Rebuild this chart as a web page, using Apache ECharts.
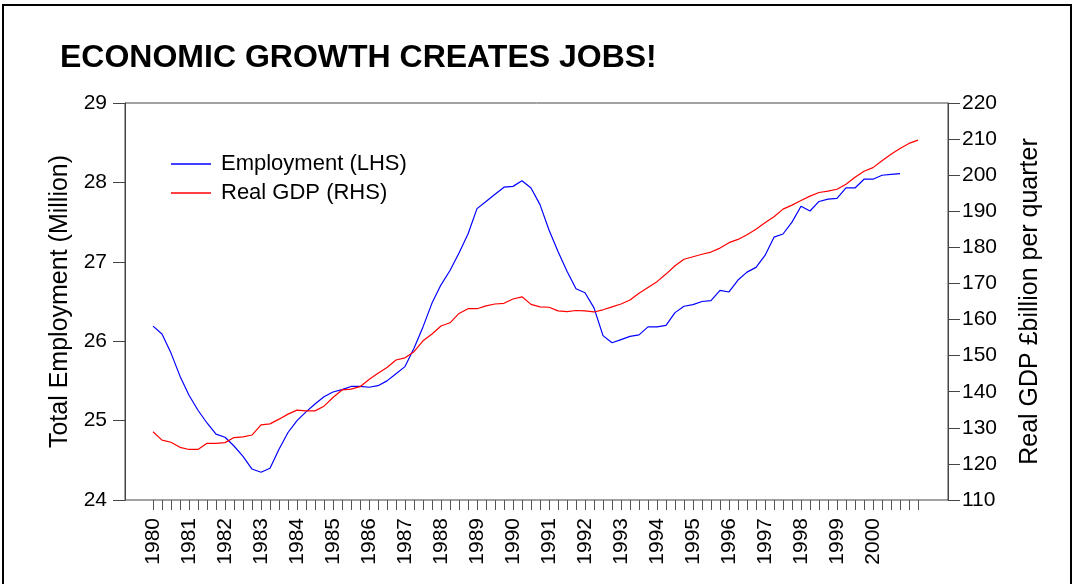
<!DOCTYPE html>
<html>
<head>
<meta charset="utf-8">
<script src="https://cdn.jsdelivr.net/npm/echarts@6/dist/echarts.min.js"></script>
<style>
html, body { margin: 0; padding: 0; background: #fff; overflow: hidden; }
#chart { position: absolute; left: 0; top: 0; width: 1074px; height: 584px; }
.outer { position: absolute; left: 2px; top: 4px; width: 1066px; height: 700px; border: 2px solid #000; pointer-events: none; }
</style>
</head>
<body>
<div id="chart"></div>
<div class="outer"></div>
<script>
// year labels on the bottom axis (first quarter of each year)
const years = ['1980', '1981', '1982', '1983', '1984', '1985', '1986', '1987', '1988', '1989',
  '1990', '1991', '1992', '1993', '1994', '1995', '1996', '1997', '1998', '1999', '2000']
const firstYear = 1980
const lastYear = 2001
const lastQuarter = 2

// Total employment (million), 1980Q1 - 2000Q4
const employment = [
  26.19, 26.09, 25.85, 25.56, 25.32, 25.13, 24.97, 24.83, 24.79, 24.68,
  24.55, 24.39, 24.35, 24.40, 24.64, 24.85, 25.00, 25.11, 25.21, 25.30,
  25.36, 25.39, 25.43, 25.43, 25.42, 25.44, 25.50, 25.59, 25.68, 25.91,
  26.18, 26.48, 26.71, 26.89, 27.11, 27.35, 27.67, 27.76, 27.85, 27.94,
  27.95, 28.02, 27.93, 27.72, 27.40, 27.13, 26.88, 26.66, 26.61, 26.42,
  26.07, 25.98, 26.02, 26.06, 26.08, 26.18, 26.18, 26.20, 26.36, 26.44,
  26.46, 26.50, 26.51, 26.64, 26.62, 26.77, 26.87, 26.93, 27.08, 27.31,
  27.35, 27.50, 27.70, 27.64, 27.76, 27.79, 27.80, 27.93, 27.93, 28.04,
  28.04, 28.09, 28.10, 28.11
]

// Real GDP, £billion per quarter, 1980Q1 - 2001Q2
const gdp = [
  128.9, 126.6, 126.0, 124.6, 124.0, 124.0, 125.7, 125.7, 125.9, 127.3,
  127.5, 128.0, 130.8, 131.1, 132.4, 133.8, 134.9, 134.7, 134.7, 136.0,
  138.4, 140.5, 140.7, 141.4, 143.4, 145.1, 146.7, 148.8, 149.4, 151.1,
  154.1, 156.0, 158.2, 159.1, 161.7, 163.0, 163.0, 163.8, 164.3, 164.5,
  165.7, 166.3, 164.2, 163.5, 163.4, 162.4, 162.2, 162.5, 162.4, 162.1,
  162.7, 163.5, 164.3, 165.4, 167.3, 168.9, 170.5, 172.6, 174.9, 176.7,
  177.4, 178.1, 178.7, 179.8, 181.3, 182.2, 183.5, 185.0, 186.8, 188.5,
  190.6, 191.7, 193.0, 194.2, 195.2, 195.6, 196.1, 197.5, 199.4, 201.1,
  202.1, 204.0, 205.8, 207.4, 208.8, 209.7
]

const quarters = []
for (let y = firstYear; y <= lastYear; y++) {
  for (let q = 1; q <= 4; q++) {
    if (y === lastYear && q > lastQuarter) break
    quarters.push(y + 'Q' + q)
  }
}

const font = 'Arial, "Liberation Sans", sans-serif'
const axisColor = '#444'

var myChart = echarts.init(document.getElementById('chart'))
var option = {
  animation: false,
  backgroundColor: '#fff',
  textStyle: { fontFamily: font, color: '#000' },
  title: {
    text: 'ECONOMIC GROWTH CREATES JOBS!',
    left: 55,
    top: 37,
    textStyle: { fontSize: 32, fontWeight: 'bold', color: '#000', fontFamily: font }
  },
  legend: {
    orient: 'vertical',
    left: 171,
    top: 153,
    padding: 0,
    icon: 'rect',
    itemWidth: 40,
    itemHeight: 1.5,
    itemGap: 7,
    textStyle: { fontSize: 22, color: '#000', fontFamily: font, padding: [0, 0, 0, 5] },
    data: ['Employment (LHS)', 'Real GDP (RHS)']
  },
  grid: [
    // data grid: first and last quarter sit inside the frame
    { left: 153, right: 156, top: 103, bottom: 84 },
    // frame around the plot
    { left: 125, right: 126, top: 103, bottom: 84, show: true, borderColor: axisColor, borderWidth: 1, backgroundColor: 'transparent' }
  ],
  xAxis: [
    {
      type: 'category',
      gridIndex: 0,
      data: quarters,
      boundaryGap: false,
      axisLine: { show: false },
      axisTick: { show: true, interval: 0, length: 10, alignWithLabel: true, lineStyle: { color: '#555' } },
      axisLabel: {
        interval: 0,
        rotate: 90,
        margin: 18,
        fontSize: 21,
        color: '#000',
        fontFamily: font,
        formatter: function(v) {
          const y = v.slice(0, 4)
          return v.slice(4) === 'Q1' && years.indexOf(y) >= 0 ? y : ''
        }
      },
      splitLine: { show: false }
    },
    { type: 'value', gridIndex: 1, show: false }
  ],
  yAxis: [
    {
      type: 'value',
      gridIndex: 0,
      position: 'left',
      offset: 28,
      min: 24,
      max: 29,
      interval: 1,
      name: 'Total Employment (Million)',
      nameLocation: 'middle',
      nameGap: 52,
      nameTextStyle: { fontSize: 25, color: '#000', fontFamily: font },
      axisLine: { show: true, lineStyle: { color: axisColor } },
      axisTick: { show: true, length: 12, lineStyle: { color: axisColor } },
      axisLabel: { margin: 18, fontSize: 21, color: '#000', fontFamily: font },
      splitLine: { show: false }
    },
    {
      type: 'value',
      gridIndex: 0,
      position: 'right',
      offset: 30,
      min: 110,
      max: 220,
      interval: 10,
      name: 'Real GDP £billion per quarter',
      nameLocation: 'middle',
      nameGap: 70,
      nameTextStyle: { fontSize: 25, color: '#000', fontFamily: font },
      axisLine: { show: true, lineStyle: { color: axisColor } },
      axisTick: { show: true, length: 12, lineStyle: { color: axisColor } },
      axisLabel: { margin: 14, fontSize: 21, color: '#000', fontFamily: font },
      splitLine: { show: false }
    },
    { type: 'value', gridIndex: 1, show: false }
  ],
  series: [
    {
      name: 'Employment (LHS)',
      type: 'line',
      xAxisIndex: 0,
      yAxisIndex: 0,
      data: employment,
      symbol: 'none',
      lineStyle: { color: '#0000ff', width: 1.2 },
      itemStyle: { color: '#0000ff' }
    },
    {
      name: 'Real GDP (RHS)',
      type: 'line',
      xAxisIndex: 0,
      yAxisIndex: 1,
      data: gdp,
      symbol: 'none',
      lineStyle: { color: '#ff0000', width: 1.2 },
      itemStyle: { color: '#ff0000' }
    }
  ]
}
myChart.setOption(option)
</script>
</body>
</html>
